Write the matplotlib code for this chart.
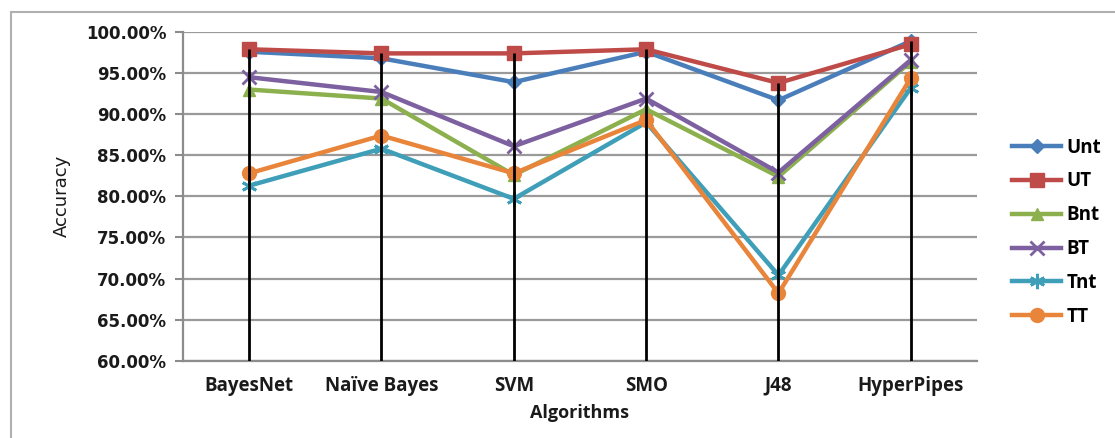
import matplotlib
matplotlib.use("Agg")
import matplotlib.pyplot as plt
from matplotlib.patches import Rectangle
import numpy as np

algorithms = ["BayesNet", "Naïve Bayes", "SVM", "SMO", "J48", "HyperPipes"]

unt = [97.6, 96.8, 93.9, 97.6, 91.7, 98.9]
ut = [97.9, 97.4, 97.4, 97.9, 93.8, 98.5]
bnt = [93.0, 91.9, 82.6, 90.6, 82.4, 96.4]
bt = [94.5, 92.7, 86.1, 91.9, 82.9, 96.6]
tnt = [81.3, 85.8, 79.7, 89.0, 70.4, 93.2]
tt = [82.8, 87.4, 82.8, 89.3, 68.2, 94.4]

series_names = ["Unt", "UT", "Bnt", "BT", "Tnt", "TT"]
series_values = [unt, ut, bnt, bt, tnt, tt]
colors = ["#4A7EBB", "#BE4B48", "#8CB04E", "#7D60A0", "#3F9FB8", "#E8853A"]
markers = ["D", "s", "^", "x", (6, 2, 0), "o"]
msizes = [7, 10, 9, 10, 11, 10]

y_ticks = [60, 65, 70, 75, 80, 85, 90, 95, 100]

fig = plt.figure(figsize=(11.15, 4.38), dpi=100)
ax = fig.add_axes([0.1641, 0.1765, 0.7121, 0.7504])

x = np.arange(len(algorithms)) + 0.5

for name, vals, c, m, ms in zip(series_names, series_values, colors, markers, msizes):
    ax.plot(x, vals, color=c, lw=3.2, marker=m, markersize=ms,
            markeredgewidth=2 if m in ("x",) or isinstance(m, tuple) else 1,
            markeredgecolor=c, markerfacecolor=c, label=name, zorder=3,
            solid_joinstyle="round")

# drop lines from the highest point of each category down to the axis
tops = np.max(np.array(series_values), axis=0)
ax.vlines(x, 60, tops, colors="black", lw=2, zorder=4)

ax.set_xlim(0, len(algorithms))
ax.set_ylim(60, 100)
ax.set_yticks(y_ticks)
ax.set_yticklabels([f"{v:.2f}%" for v in y_ticks], fontweight="bold",
                   fontsize=12, color="#1a1a1a")
ax.set_xticks(x)
ax.set_xticklabels(algorithms, fontweight="bold", fontsize=13.5, color="#1a1a1a",
                   family="Open Sans")
ax.tick_params(axis="x", length=0, pad=11)
ax.tick_params(axis="y", length=6, width=1.5, color="#8c8c8c", direction="out", pad=6)

ax.yaxis.grid(True, color="#9a9a9a", lw=1.6)
ax.set_axisbelow(True)
for side in ("top", "right"):
    ax.spines[side].set_visible(False)
for side in ("left", "bottom"):
    ax.spines[side].set_color("#8c8c8c")
    ax.spines[side].set_linewidth(1.6)

ax.set_xlabel("Algorithms", fontweight="bold", fontsize=13, family="Open Sans",
              color="#1a1a1a", labelpad=6)
ax.set_ylabel("Accuracy", fontsize=13, family="Liberation Sans Narrow",
              color="#1a1a1a", labelpad=11)

leg = fig.legend(loc="upper left", bbox_to_anchor=(0.908, 0.686), frameon=False,
                 prop={"weight": "bold", "size": 13.5, "family": "Open Sans"},
                 handlelength=2.6, labelspacing=0.74, handletextpad=0.3,
                 borderaxespad=0, borderpad=0)

# outer chart border
fig.add_artist(Rectangle((11 / 1115, -0.1), 1.2, (438 - 12) / 438 + 0.1,
                         transform=fig.transFigure, fill=False,
                         edgecolor="#b0b0b0", lw=1.5))

fig.savefig("out.png", dpi=100, facecolor="white")
